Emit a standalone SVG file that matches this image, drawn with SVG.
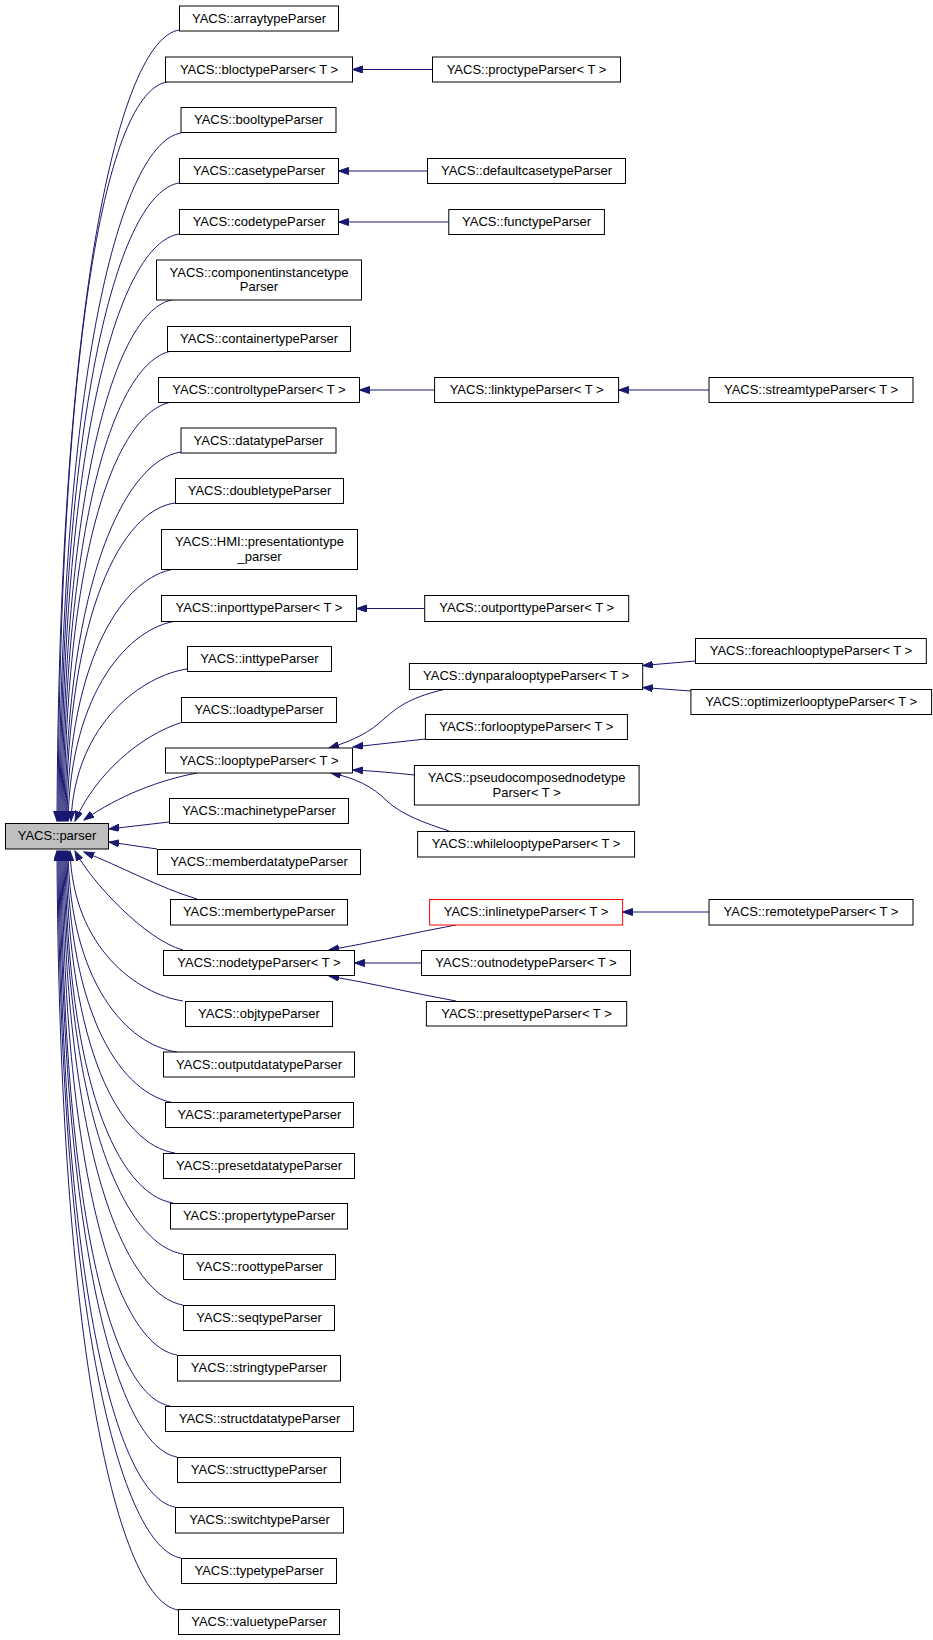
<svg xmlns="http://www.w3.org/2000/svg" width="933" height="1640" viewBox="0 0 933 1640">
<defs>
<marker id="ah" markerUnits="userSpaceOnUse" markerWidth="11" markerHeight="8" refX="10" refY="3.5" orient="auto">
<path d="M0,0 L10,3.5 L0,7 z" fill="#191970" stroke="#191970" stroke-width="1"/>
</marker>
<style>
rect{fill:#fff;stroke:#000;stroke-width:1}
text{font-family:"Liberation Sans",Arial,sans-serif;font-size:13px;text-anchor:middle;fill:#000}
#edges path{fill:none;stroke:#191970;stroke-width:1;marker-end:url(#ah)}
</style>
</defs>
<rect x="0" y="0" width="933" height="1640" style="fill:#fff;stroke:none"/>
<g id="edges">
<path d="M179,30 C119,40 59,300 57,821"/>
<path d="M167,82 C107,92 60,334 58,821"/>
<path d="M181,133 C121,143 61,368 59,821"/>
<path d="M179,183 C119,193 62,401 60,821"/>
<path d="M179,234 C119,244 63,434 61,821"/>
<path d="M172,300 C117,310 64,478 62,821"/>
<path d="M172,351 C117,360 65,511 63,821"/>
<path d="M172,402 C117,411 66,545 64,821"/>
<path d="M181,452 C126,460 67,578 65,821"/>
<path d="M175,503 C122,510 68,612 66,821"/>
<path d="M175,569 C125,576 69,655 67,821"/>
<path d="M177,621 C130,627 71,690 68,821"/>
<path d="M187,669 C145,675 75,721 71,821"/>
<path d="M183,722 C140,735 95,775 75,821"/>
<path d="M197,773 C160,780 120,795 84,820"/>
<path d="M169,822 L109,829"/>
<path d="M157,849 L109,842"/>
<path d="M197,899 C160,888 120,866 84,852"/>
<path d="M183,950 C145,940 90,880 75,851"/>
<path d="M183,1001 C138,994 73,949 70,851"/>
<path d="M177,1052 C127,1045 70,983 68,851"/>
<path d="M175,1103 C122,1095 69,1017 67,851"/>
<path d="M175,1153 C120,1145 68,1050 66,851"/>
<path d="M173,1203 C118,1194 67,1083 65,851"/>
<path d="M183,1254 C125,1245 66,1116 64,851"/>
<path d="M183,1305 C124,1295 65,1150 63,851"/>
<path d="M177,1355 C118,1345 64,1183 62,851"/>
<path d="M170,1406 C112,1396 63,1217 61,851"/>
<path d="M177,1457 C118,1447 62,1250 60,851"/>
<path d="M175,1507 C116,1497 61,1283 59,851"/>
<path d="M181,1558 C121,1548 60,1317 58,851"/>
<path d="M178,1610 C118,1600 59,1351 57,851"/>
<path d="M432.5,69.5 L352.5,69.5"/>
<path d="M427.5,171 L338.5,171"/>
<path d="M448.8,222 L338.5,222"/>
<path d="M434.6,390 L359.5,390"/>
<path d="M709,390 L618.6,390"/>
<path d="M424.7,608.5 L356.5,608.5"/>
<path d="M446,689 C412,697 400,705 385,718 C370,732 355,740 329,748"/>
<path d="M425.4,739 L353,747"/>
<path d="M414.4,775 C395,773 375,771 353,770"/>
<path d="M449,831 C425,823 402,815 387,801 C372,786 355,778 331,773"/>
<path d="M695.5,661 L642.7,665.5"/>
<path d="M690.9,691 L642.7,687.5"/>
<path d="M456,925 C412,933 370,943 329,950"/>
<path d="M421.5,963 L354.5,963"/>
<path d="M456,1001 C412,993 370,983 329,976"/>
<path d="M709,912 L622.5,912"/>
</g>
<g id="n_parser"><rect x="5.5" y="823.5" width="103" height="25.5" style="fill:#bfbfbf"/><text x="57" y="840">YACS::parser</text></g>
<g id="n_array"><rect x="179.5" y="6" width="159" height="25"/><text x="259" y="22.5">YACS::arraytypeParser</text></g>
<g id="n_bloc"><rect x="165.5" y="57" width="187" height="25"/><text x="259" y="73.5">YACS::bloctypeParser&lt; T &gt;</text></g>
<g id="n_bool"><rect x="181" y="107.5" width="155" height="25"/><text x="258.5" y="124">YACS::booltypeParser</text></g>
<g id="n_case"><rect x="179.5" y="158.5" width="159" height="25"/><text x="259" y="175">YACS::casetypeParser</text></g>
<g id="n_code"><rect x="179.5" y="209.5" width="159" height="25"/><text x="259" y="226">YACS::codetypeParser</text></g>
<g id="n_comp"><rect x="156.5" y="260" width="205" height="40"/><text x="259" y="276.5">YACS::componentinstancetype</text><text x="259" y="290.5">Parser</text></g>
<g id="n_container"><rect x="167.5" y="326.5" width="183" height="25"/><text x="259" y="343">YACS::containertypeParser</text></g>
<g id="n_control"><rect x="158.5" y="377.5" width="201" height="25"/><text x="259" y="394">YACS::controltypeParser&lt; T &gt;</text></g>
<g id="n_data"><rect x="181" y="428" width="155" height="25"/><text x="258.5" y="444.5">YACS::datatypeParser</text></g>
<g id="n_double"><rect x="175.5" y="478.5" width="168" height="25"/><text x="259.5" y="495">YACS::doubletypeParser</text></g>
<g id="n_hmi"><rect x="161.5" y="529.5" width="196" height="40"/><text x="259.5" y="546">YACS::HMI::presentationtype</text><text x="259.5" y="560.5">_parser</text></g>
<g id="n_inport"><rect x="161.5" y="595.5" width="195" height="26"/><text x="259" y="612">YACS::inporttypeParser&lt; T &gt;</text></g>
<g id="n_int"><rect x="187.5" y="646.5" width="144" height="25"/><text x="259.5" y="663">YACS::inttypeParser</text></g>
<g id="n_load"><rect x="181.5" y="697.5" width="155" height="25"/><text x="259" y="714">YACS::loadtypeParser</text></g>
<g id="n_loop"><rect x="165.5" y="748" width="187" height="25"/><text x="259" y="764.5">YACS::looptypeParser&lt; T &gt;</text></g>
<g id="n_machine"><rect x="169.5" y="798.5" width="179" height="25"/><text x="259" y="815">YACS::machinetypeParser</text></g>
<g id="n_memberdata"><rect x="157.5" y="849.5" width="203" height="25"/><text x="259" y="866">YACS::memberdatatypeParser</text></g>
<g id="n_member"><rect x="170.5" y="899.5" width="177" height="25.5"/><text x="259" y="916">YACS::membertypeParser</text></g>
<g id="n_node"><rect x="163.5" y="950.5" width="191" height="25"/><text x="259" y="967">YACS::nodetypeParser&lt; T &gt;</text></g>
<g id="n_obj"><rect x="185.5" y="1001.5" width="147" height="25"/><text x="259" y="1018">YACS::objtypeParser</text></g>
<g id="n_outputdata"><rect x="163.5" y="1052" width="191" height="25"/><text x="259" y="1068.5">YACS::outputdatatypeParser</text></g>
<g id="n_parameter"><rect x="165.5" y="1102.5" width="188" height="25"/><text x="259.5" y="1119">YACS::parametertypeParser</text></g>
<g id="n_presetdata"><rect x="163.5" y="1153.5" width="191" height="25"/><text x="259" y="1170">YACS::presetdatatypeParser</text></g>
<g id="n_property"><rect x="170.5" y="1203.5" width="177" height="25.5"/><text x="259" y="1220">YACS::propertytypeParser</text></g>
<g id="n_root"><rect x="183.5" y="1254.5" width="152" height="25"/><text x="259.5" y="1271">YACS::roottypeParser</text></g>
<g id="n_seq"><rect x="183.5" y="1305.5" width="151" height="25"/><text x="259" y="1322">YACS::seqtypeParser</text></g>
<g id="n_string"><rect x="177.5" y="1355.5" width="163" height="25.5"/><text x="259" y="1372">YACS::stringtypeParser</text></g>
<g id="n_structdata"><rect x="165.5" y="1406.5" width="188" height="25"/><text x="259.5" y="1423">YACS::structdatatypeParser</text></g>
<g id="n_struct"><rect x="177.5" y="1457.5" width="163" height="25"/><text x="259" y="1474">YACS::structtypeParser</text></g>
<g id="n_switch"><rect x="175.5" y="1507.5" width="168" height="25.5"/><text x="259.5" y="1524">YACS::switchtypeParser</text></g>
<g id="n_typetype"><rect x="181.5" y="1558.5" width="155" height="25"/><text x="259" y="1575">YACS::typetypeParser</text></g>
<g id="n_value"><rect x="178.5" y="1609.5" width="161" height="25"/><text x="259" y="1626">YACS::valuetypeParser</text></g>
<g id="n_proc"><rect x="432.5" y="57" width="188" height="25"/><text x="526.5" y="73.5">YACS::proctypeParser&lt; T &gt;</text></g>
<g id="n_defaultcase"><rect x="427.5" y="158.5" width="198" height="25"/><text x="526.5" y="175">YACS::defaultcasetypeParser</text></g>
<g id="n_func"><rect x="448.8" y="209.5" width="155.6" height="25"/><text x="526.6" y="226">YACS::functypeParser</text></g>
<g id="n_link"><rect x="434.6" y="377.5" width="184" height="25"/><text x="526.6" y="394">YACS::linktypeParser&lt; T &gt;</text></g>
<g id="n_stream"><rect x="709" y="377.5" width="204" height="25"/><text x="811" y="394">YACS::streamtypeParser&lt; T &gt;</text></g>
<g id="n_outport"><rect x="424.7" y="595.5" width="204" height="26"/><text x="526.7" y="612">YACS::outporttypeParser&lt; T &gt;</text></g>
<g id="n_dynpara"><rect x="409.4" y="663.5" width="233.3" height="26"/><text x="526" y="680">YACS::dynparalooptypeParser&lt; T &gt;</text></g>
<g id="n_foreach"><rect x="695.5" y="638.5" width="230.8" height="25"/><text x="810.9" y="655">YACS::foreachlooptypeParser&lt; T &gt;</text></g>
<g id="n_optimizer"><rect x="690.9" y="689.5" width="240.7" height="25"/><text x="811.2" y="706">YACS::optimizerlooptypeParser&lt; T &gt;</text></g>
<g id="n_forloop"><rect x="425.4" y="714.5" width="202" height="25"/><text x="526.4" y="731">YACS::forlooptypeParser&lt; T &gt;</text></g>
<g id="n_pseudo"><rect x="414.4" y="765.5" width="224.7" height="39.5"/><text x="526.7" y="782">YACS::pseudocomposednodetype</text><text x="526.7" y="796.5">Parser&lt; T &gt;</text></g>
<g id="n_while"><rect x="417.6" y="831.5" width="217" height="25.5"/><text x="526.1" y="848">YACS::whilelooptypeParser&lt; T &gt;</text></g>
<g id="n_inline"><rect x="429.6" y="899.5" width="193" height="25.5" style="stroke:#ff0000"/><text x="526.1" y="916">YACS::inlinetypeParser&lt; T &gt;</text></g>
<g id="n_remote"><rect x="709" y="899.5" width="204" height="25.5"/><text x="811" y="916">YACS::remotetypeParser&lt; T &gt;</text></g>
<g id="n_outnode"><rect x="421.5" y="950.5" width="209" height="25"/><text x="526" y="967">YACS::outnodetypeParser&lt; T &gt;</text></g>
<g id="n_preset"><rect x="426.4" y="1001.5" width="200.3" height="24.5"/><text x="526.5" y="1018">YACS::presettypeParser&lt; T &gt;</text></g>
</svg>
